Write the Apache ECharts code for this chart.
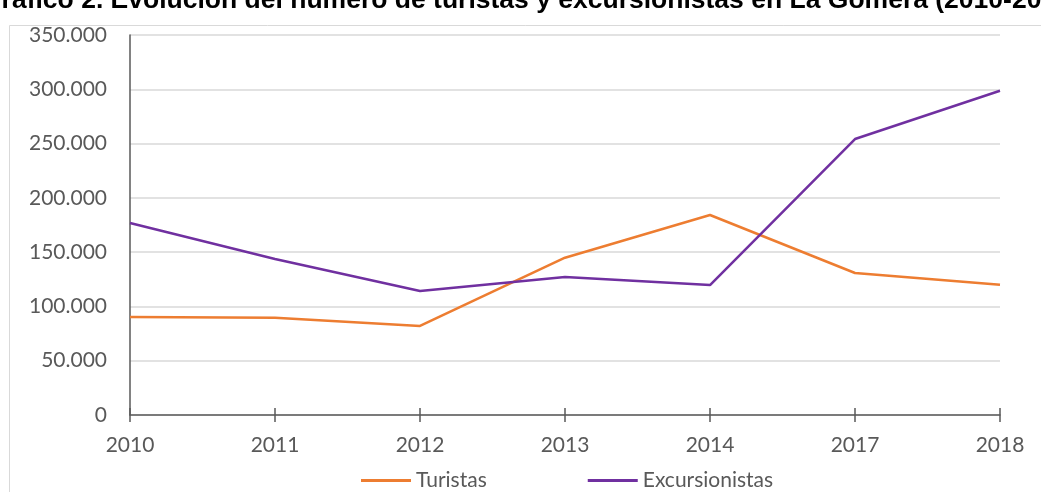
<!DOCTYPE html>
<html><head><meta charset="utf-8">
<script src="https://cdn.jsdelivr.net/npm/echarts@6/dist/echarts.min.js"></script>
<style>html,body{margin:0;padding:0;background:#fff;}#c{width:1041px;height:492px;}</style>
</head><body><div id="c"></div>
<script>
const titleText = 'Gráfico 2. Evolución del número de turistas y excursionistas en La Gomera (2010-2018)';
const years = ['2010','2011','2012','2013','2014','2017','2018'];
const turistas = [90300, 89600, 82000, 144900, 184200, 130800, 120000];
const excursionistas = [176800, 143700, 114200, 127100, 119700, 254200, 298700];
const seriesNames = ['Turistas','Excursionistas'];

const chart = echarts.init(document.getElementById('c'), null, {renderer:'canvas'});
const fmt = v => v === 0 ? '0' : String(v).replace(/\B(?=(\d{3})+(?!\d))/g, '.');
const labelFont = {fontFamily:'Lato', fontSize:21, color:'#595959'};
chart.setOption({
  animation:false,
  backgroundColor:'#fff',
  title:{text:titleText, left:-19, top:-13, padding:0, textStyle:{fontFamily:'Liberation Sans', fontWeight:'bold', fontSize:26.5, color:'#000'}},
  graphic:[
    {type:'line', shape:{x1:9.5,y1:25.5,x2:1041,y2:25.5}, style:{stroke:'#d9d9d9', lineWidth:1}},
    {type:'line', shape:{x1:9.5,y1:25.5,x2:9.5,y2:492}, style:{stroke:'#d9d9d9', lineWidth:1}}
  ],
  grid:{left:130, right:41, top:35, bottom:77, containLabel:false},
  legend:{top:465, left:356, itemWidth:50, itemHeight:3, itemGap:101, icon:'rect',
    textStyle:Object.assign({}, labelFont), data:seriesNames},
  xAxis:[{type:'category', data:years, boundaryGap:false,
    axisLine:{lineStyle:{color:'#595959', width:1.5}},
    axisTick:{show:true, length:7, lineStyle:{color:'#595959', width:1.5}},
    axisLabel:Object.assign({margin:20}, labelFont)},
   {type:'category', data:years, boundaryGap:false, position:'bottom',
    axisLine:{show:false},
    axisTick:{show:true, inside:true, length:7, lineStyle:{color:'#595959', width:1.5}},
    axisLabel:{show:false}}],
  yAxis:{type:'value', min:0, max:350000, interval:50000,
    axisLine:{show:true, lineStyle:{color:'#595959', width:1.5}},
    axisTick:{show:false},
    splitLine:{lineStyle:{color:'#d9d9d9', width:1.5}},
    axisLabel:Object.assign({margin:23, formatter:fmt}, labelFont)},
  series:[
    {name:seriesNames[0], type:'line', data:turistas, symbol:'none', lineStyle:{color:'#ED7D31', width:2.5}, itemStyle:{color:'#ED7D31'}},
    {name:seriesNames[1], type:'line', data:excursionistas, symbol:'none', lineStyle:{color:'#7030A0', width:2.5}, itemStyle:{color:'#7030A0'}}
  ]
});
</script></body></html>
